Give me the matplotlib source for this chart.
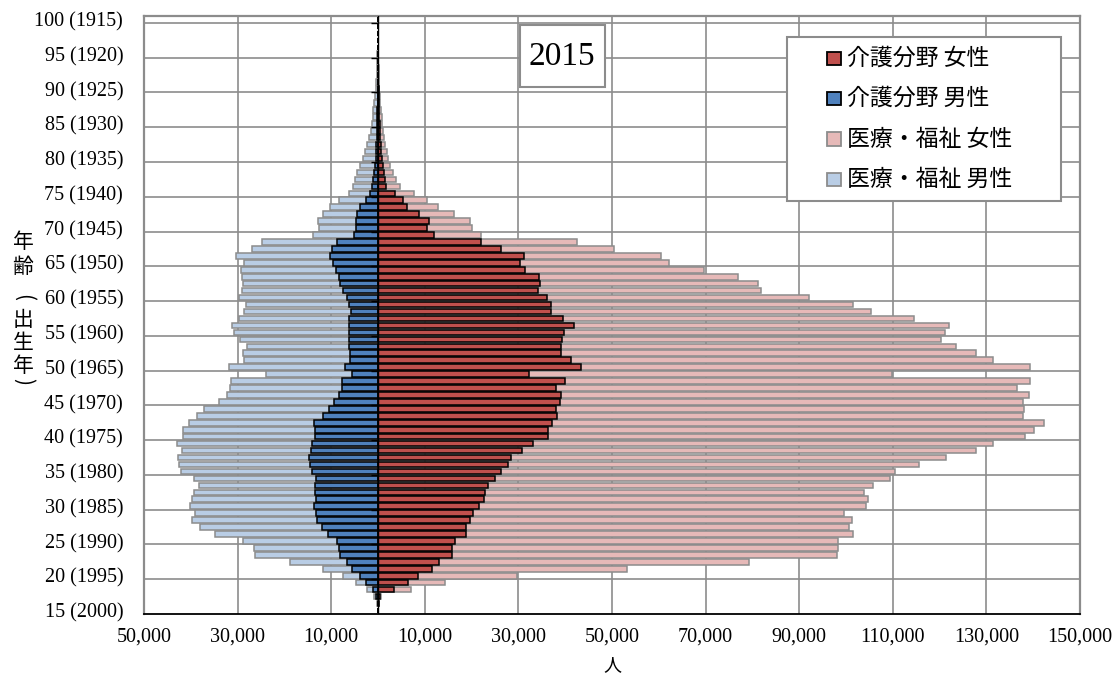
import matplotlib
matplotlib.use("Agg")
import matplotlib.pyplot as plt
from matplotlib.patches import Rectangle
import numpy as np

# ---- data: workers by age (2015), ages 15..100 ----
ages = list(range(15, 101))
survey_year = 2015

# 医療・福祉 男性
male_med = [50, 150, 800, 2300, 4600,
            7400, 11700, 18800, 26200, 26500,
            28800, 34800, 38000, 39700, 39200,
            40200, 39700, 39300, 38200, 39400,
            42200, 42600, 42800, 41900, 43000,
            41700, 41700, 40300, 38600, 37200,
            33900, 32200, 31600, 31400, 24000,
            31750, 28700, 28800, 28050, 29500,
            30700, 31250, 29800, 28700, 28200,
            29800, 29100, 28800, 29100, 29300,
            28600, 30400, 26900, 24700, 13800,
            12700, 12900, 11700, 10200, 8260,
            6100, 5300, 4900, 4400, 3850,
            3270, 2780, 2280, 1850, 1570,
            1300, 1150, 1000, 850, 650,
            500, 400, 300, 220, 160,
            110, 80, 50, 30, 20,
            15]

# 介護分野 男性
male_care = [30, 100, 400, 1100, 2600,
             3850, 5480, 6700, 8100, 8260,
             8700, 10750, 12000, 13100, 13300,
             13600, 13300, 13400, 13400, 13300,
             14000, 14500, 14800, 14300, 14200,
             13400, 13450, 13600, 11800, 10500,
             9400, 8300, 7760, 7600, 5500,
             7050, 6000, 6000, 6120, 6120,
             6200, 6270, 6120, 5770, 6200,
             6550, 7400, 8100, 8260, 9040,
             9700, 10250, 9800, 8800, 5100,
             4700, 4700, 4400, 3850, 2560,
             1800, 1300, 1000, 800, 650,
             520, 420, 340, 280, 230,
             180, 150, 120, 100, 80,
             60, 45, 35, 25, 18,
             12, 8, 5, 3, 2,
             1]

# 医療・福祉 女性
female_med = [60, 200, 600, 7050, 14400,
              29700, 53200, 79200, 98000, 98200,
              98350, 101600, 100700, 101200, 99600,
              104300, 104750, 103900, 105750, 109450,
              110500, 115500, 121300, 127700, 131400,
              138300, 140100, 142400, 137900, 138000,
              137800, 139100, 136600, 139300, 109800,
              139400, 131500, 127800, 123500, 120200,
              121100, 122100, 114600, 105250, 101400,
              92100, 81750, 81200, 76900, 69650,
              62250, 60400, 50400, 42500, 22070,
              20080, 19580, 16300, 12750, 10470,
              7700, 4600, 3900, 3200, 2600,
              2200, 1900, 1600, 1300, 1100,
              950, 800, 650, 520, 400,
              320, 250, 190, 140, 100,
              70, 50, 35, 20, 15,
              10]

# 介護分野 女性
female_care = [40, 150, 450, 3400, 6350,
               8650, 11500, 13050, 15900, 15850,
               16450, 18850, 18700, 19700, 20250,
               21550, 22600, 22900, 23500, 25050,
               26250, 27700, 28500, 30700, 33050,
               36400, 36400, 37100, 38200, 38100,
               38850, 39100, 38100, 40000, 32200,
               43300, 41200, 39200, 39200, 39400,
               39800, 41900, 39500, 37000, 37000,
               36200, 34200, 34700, 34500, 31400,
               30400, 31100, 26340, 22070, 12030,
               10470, 10800, 8690, 6200, 5270,
               3600, 1700, 1450, 1200, 1000,
               850, 700, 600, 500, 420,
               350, 300, 250, 200, 160,
               120, 100, 80, 60, 45,
               30, 20, 15, 10, 5,
               5]

series_labels = ["介護分野 女性", "介護分野 男性", "医療・福祉 女性", "医療・福祉 男性"]
x_ticks = list(range(-50000, 150001, 20000))
x_label = "人"
# vertical title: 年齢（出生年）, brackets turned for vertical writing
y_label_chars = [("年", 0), ("齢", 0), ("(", -90), ("出", 0), ("生", 0), ("年", 0), (")", -90)]

# ---- styling ----
C_CARE_F = "#c0504d"
C_CARE_M = "#4f81bd"
C_MED_F = "#e6b9b8"
C_MED_M = "#b9cde5"
GRID = "#8c8c8c"
SERIF = ["Liberation Serif", "DejaVu Serif"]
JP = ["Noto Sans CJK JP", "DejaVu Sans"]

plt.rcParams["font.family"] = SERIF

W, H = 1118, 677
fig = plt.figure(figsize=(W / 100, H / 100), dpi=100)
ax = fig.add_axes([144 / W, (H - 614) / H, 936 / W, 598 / H])

y = np.array(ages)
bh = 0.8
lw = 1.1
ax.barh(y, -np.array(male_med), height=bh, color=C_MED_M, edgecolor=GRID, linewidth=lw, zorder=2)
ax.barh(y, np.array(female_med), height=bh, color=C_MED_F, edgecolor=GRID, linewidth=lw, zorder=2)
ax.barh(y, -np.array(male_care), height=bh, color=C_CARE_M, edgecolor="black", linewidth=lw, zorder=3)
ax.barh(y, np.array(female_care), height=bh, color=C_CARE_F, edgecolor="black", linewidth=lw, zorder=3)

ax.set_xlim(x_ticks[0], x_ticks[-1])
ax.set_ylim(ages[0] - 0.5, ages[-1] + 0.5)

ax.set_xticks(x_ticks)
ax.set_xticklabels([f"{abs(v):,}" for v in x_ticks])
ax.tick_params(axis="x", length=0, pad=10, labelsize=14.5)

label_ages = ages[::5]
ax.set_yticks(label_ages)
ax.set_yticklabels([f"{a} ({survey_year - a})" for a in label_ages])
ax.tick_params(axis="y", length=0, pad=15, labelsize=14.5)

# horizontal grid lines on category boundaries every 5 years
bounds = np.arange(ages[0] + 4.5, ages[-1], 5)
ax.set_yticks(bounds, minor=True)
ax.tick_params(which="minor", length=0)
ax.set_axisbelow(True)
ax.grid(axis="y", which="minor", color=GRID, linewidth=1.2)
ax.grid(axis="x", which="major", color=GRID, linewidth=1.2)
ax.grid(axis="y", which="major", visible=False)

for side in ("left", "top", "right"):
    ax.spines[side].set_color(GRID)
    ax.spines[side].set_linewidth(1.6)
ax.spines["bottom"].set_color("black")
ax.spines["bottom"].set_linewidth(1.3)

# vertical axis at zero with small tick marks
ax.axvline(0, color="black", linewidth=1.0, zorder=4)
ax.plot(np.zeros(len(bounds)), bounds, linestyle="none", marker=0, markersize=5,
        markeredgewidth=1.0, color="black", zorder=4)

# ---- overlay in pixel coordinates for annotations ----
ov = fig.add_axes([0, 0, 1, 1])
ov.set_xlim(0, W)
ov.set_ylim(H, 0)
ov.axis("off")

# year box
ov.add_patch(Rectangle((519.5, 25.3), 85.5, 61.4, facecolor="white", edgecolor=GRID, linewidth=1.5))
ov.text(562.2, 56.5, str(survey_year), fontsize=24, family=SERIF, ha="center", va="center")

# legend
ov.add_patch(Rectangle((786.7, 37.3), 274, 163.7, facecolor="white", edgecolor=GRID, linewidth=1.5))
legend_styles = [(C_CARE_F, "black"), (C_CARE_M, "black"), (C_MED_F, GRID), (C_MED_M, GRID)]
for i, (label, (fc, ec)) in enumerate(zip(series_labels, legend_styles)):
    yc = 58.3 + i * 40.4
    ov.add_patch(Rectangle((827.3, yc - 6.7), 13.3, 13.3, facecolor=fc, edgecolor=ec, linewidth=1.3))
    ov.text(847, yc, label, fontsize=16.5, family=JP, ha="left", va="center")

# axis titles
ylab_pos = [242, 267, 297, 320, 343, 366, 382]
for (ch, rot), yy in zip(y_label_chars, ylab_pos):
    ov.text(23, yy, ch, fontsize=15, family=JP, rotation=rot, ha="center", va="center")
ov.text(612, 665, x_label, fontsize=13, family=JP, ha="center", va="center")

fig.savefig("out.png", dpi=100)
